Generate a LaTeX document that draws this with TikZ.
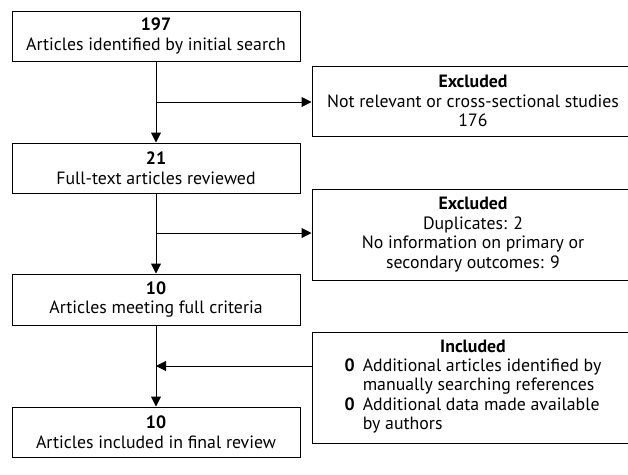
\documentclass[tikz,border=0pt]{standalone}
\usepackage{fontspec}
\setmainfont{PT Sans}
\usetikzlibrary{arrows.meta,calc}

\begin{document}
\begin{tikzpicture}[x=1pt,y=-1pt,
		box/.style={draw,line width=1pt,align=center,inner sep=0pt,font=\fontsize{17.8}{19.5}\selectfont},
		stage/.style={box,minimum width=288pt,minimum height=50pt},
		side/.style={box,minimum width=322pt},
		flow/.style={line width=1pt,-{Triangle[length=10pt,width=10pt]}}]
	\useasboundingbox (0,0) rectangle (628,474);
	
	\node[stage] (search) at (156,36) {\textbf{197}\\Articles identified by initial search};
	\node[stage] (fulltext) at (156,168) {\textbf{21}\\Full-text articles reviewed};
	\node[stage,minimum height=51pt] (criteria) at (156,299.5) {\textbf{10}\\Articles meeting full criteria};
	\node[stage] (final) at (156,432) {\textbf{10}\\Articles included in final review};
	
	\node[side,minimum height=70pt] (exclA) at (473,101) {\textbf{Excluded}\\Not relevant or cross-sectional studies\\176};
	\node[side,minimum height=91pt] (exclB) at (473,234.5) {\textbf{Excluded}\\Duplicates: 2\\No information on primary or\\secondary outcomes: 9};
	\node[side,minimum height=111pt] (incl) at (473,387.5) {\textbf{Included}\\[4pt]
		\begin{tabular}{@{}l@{\hspace{8pt}}l@{}}
			\textbf{0} & Additional articles identified by\\
			& manually searching references\\
			\textbf{0} & Additional data made available\\
			& by authors
	\end{tabular}};
	
	\coordinate (j1) at (156,102);
	\coordinate (j2) at (156,233);
	\coordinate (j3) at (156,366);
	
	\draw[flow] (search) -- (fulltext);
	\draw[flow] (fulltext) -- (criteria);
	\draw[flow] (criteria) -- (final);
	
	\draw[flow] (j1) -- (j1 -| exclA.west);
	\draw[flow] (j2) -- (j2 -| exclB.west);
	\draw[flow] (j3 -| incl.west) -- (j3);
\end{tikzpicture}
\end{document}
